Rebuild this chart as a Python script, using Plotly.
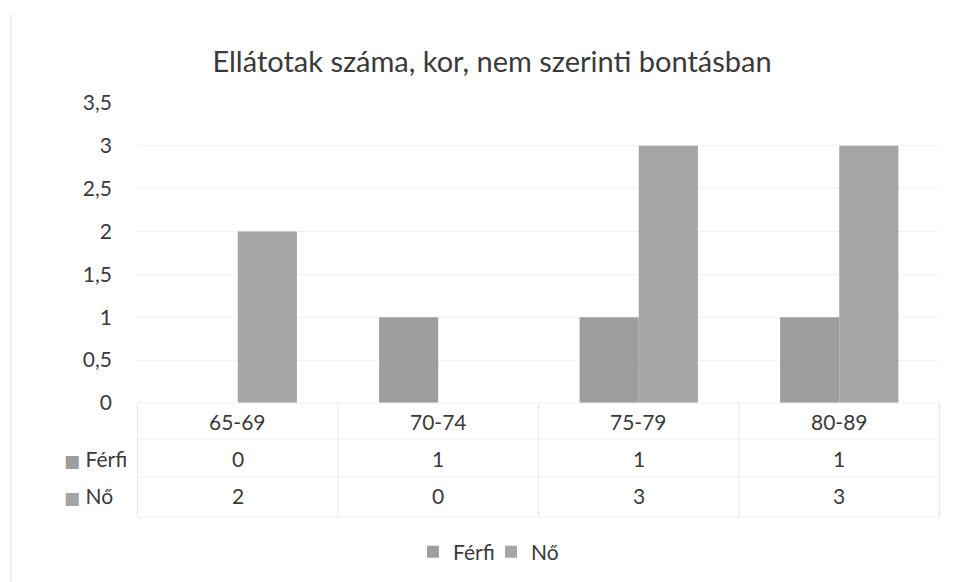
import plotly.graph_objects as go

categories = ["65-69", "70-74", "75-79", "80-89"]
ferfi = [0, 1, 1, 1]
no = [2, 0, 3, 3]
series_names = ["Férfi", "Nő"]
y_ticks = [0, 0.5, 1, 1.5, 2, 2.5, 3, 3.5]
title = "Ellátotak száma, kor, nem szerinti bontásban"

c_ferfi = "#9e9e9e"
c_no = "#a5a5a5"
txt = "#3a3a3a"
font = "Lato, 'Open Sans', sans-serif"
FS = 21

OFF = 8  # page body margin
W, H = 955, 582
L, R = 137 - OFF, W - (940 - OFF)
T, B = 103 - OFF, H - (403 - OFF)
ph = H - T - B
pw = W - L - R

def py(p):
    return (T + ph - (p - OFF)) / ph

def px(p):
    return (p - OFF - L) / pw

fig = go.Figure()
fig.add_trace(go.Bar(x=categories, y=ferfi, name=series_names[0], marker_color=c_ferfi, marker_line_width=0))
fig.add_trace(go.Bar(x=categories, y=no, name=series_names[1], marker_color=c_no, marker_line_width=0))

anns = []
rows = [(None, categories, 421), (series_names[0], ferfi, 458), (series_names[1], no, 495)]
for label, vals, ypix in rows:
    for c, v in zip(categories, vals):
        anns.append(dict(x=c, xref="x", y=py(ypix), yref="paper", text=str(v), showarrow=False,
                         font=dict(size=FS, color=txt, family=font), xanchor="center", yanchor="middle"))
    if label:
        col = c_ferfi if label == series_names[0] else c_no
        anns.append(dict(x=px(62), xref="paper", y=py(ypix), yref="paper",
                         text=f"<span style='color:{col};font-family:DejaVu Sans;font-size:17px'>■</span> {label}",
                         showarrow=False,
                         font=dict(size=FS, color=txt, family=font), xanchor="left", yanchor="middle"))

shapes = []
for i in range(len(categories) + 1):
    shapes.append(dict(type="line", xref="x", yref="paper", x0=i - 0.5, x1=i - 0.5,
                       y0=py(403), y1=py(517), line=dict(color="#e8e8e8", width=1)))
for yp in [403, 439, 477, 517]:
    shapes.append(dict(type="line", xref="paper", yref="paper", x0=0, x1=1,
                       y0=py(yp), y1=py(yp), line=dict(color="#f0f0f0", width=1)))
# faint chart border at the left edge
shapes.append(dict(type="line", xref="paper", yref="paper", x0=px(11), x1=px(11),
                   y0=py(15), y1=py(582), line=dict(color="#ececec", width=2)))

fig.update_layout(
    width=W, height=H,
    margin=dict(l=L, r=R, t=T, b=B),
    paper_bgcolor="white", plot_bgcolor="white",
    separators=", ",
    title=dict(text=title, x=(492 - OFF) / W, xanchor="center", y=1 - (62 - OFF) / H, yanchor="middle",
               font=dict(size=29, color=txt, family=font)),
    barmode="group", bargap=0.41, bargroupgap=0,
    xaxis=dict(showticklabels=False, showgrid=False, zeroline=False, showline=False, ticks=""),
    yaxis=dict(range=[0, 3.5], tickvals=y_ticks, showgrid=True, gridcolor="#f3f3f3",
               zeroline=False, showline=False, ticks="", ticklabelstandoff=24,
               tickfont=dict(size=FS, color=txt, family=font)),
    legend=dict(orientation="h", x=px(413), xanchor="left", y=py(552), yanchor="middle",
                font=dict(size=FS, color=txt, family=font), itemwidth=30, traceorder="normal",
                entrywidth=33, entrywidthmode="pixels"),
    annotations=anns, shapes=shapes,
)

fig.write_html("out.html")
